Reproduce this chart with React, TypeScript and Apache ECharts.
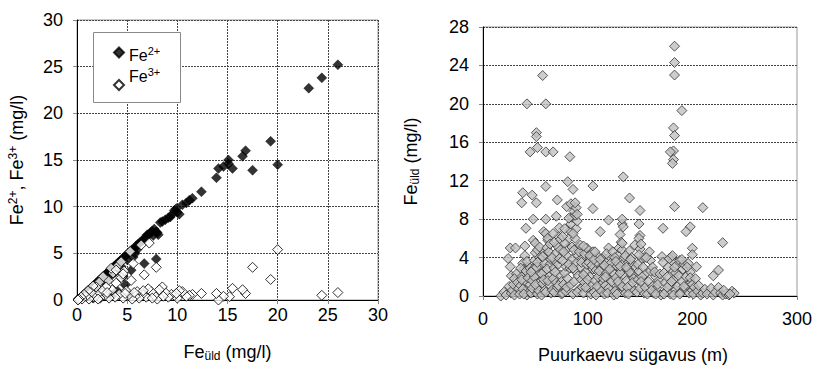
import React, { useEffect, useRef } from "react";
import * as echarts from "echarts";

// Left chart: total Fe (mg/l) vs Fe2+ / Fe3+ (mg/l)
const fe2Points: [number, number][] = [
  [26.0, 25.2], [24.4, 23.8], [23.1, 22.7], [20.0, 14.5], [19.3, 17.0], [17.5, 13.9],
  [16.8, 16.0], [16.5, 15.4], [15.5, 14.1], [15.1, 15.0], [15.1, 14.6], [14.6, 14.3],
  [14.1, 14.1], [13.9, 13.1], [12.4, 11.6], [11.5, 10.9], [11.2, 10.7], [10.9, 10.4],
  [10.5, 10.2], [10.2, 9.2], [10.0, 9.4], [9.9, 9.8], [9.7, 9.6], [9.5, 9.2], [9.3, 8.9],
  [9.1, 8.8], [8.8, 8.6], [8.5, 8.4], [8.3, 8.3], [8.1, 7.0], [7.9, 7.3], [7.7, 7.6],
  [7.5, 7.4], [7.3, 7.2], [7.1, 6.9], [6.9, 6.8], [6.7, 6.6], [6.5, 6.3], [6.3, 6.2],
  [6.1, 6.0], [5.9, 5.8], [5.7, 5.5], [5.5, 5.4], [5.3, 5.2], [5.1, 5.0], [4.9, 4.8],
  [4.7, 4.6], [4.5, 4.4], [4.3, 4.2], [4.1, 4.0], [3.9, 3.8], [3.7, 3.6], [3.5, 3.4],
  [3.3, 3.2], [3.1, 3.0], [2.9, 2.8], [2.7, 2.6], [2.5, 2.4], [2.3, 2.2], [2.1, 2.0],
  [1.9, 1.8], [1.7, 1.6], [1.5, 1.4], [1.3, 1.2], [1.1, 1.0], [0.9, 0.8], [0.7, 0.6],
  [0.5, 0.4], [0.3, 0.2], [0.1, 0.1], [7.9, 4.4], [6.7, 3.9], [5.4, 3.2], [4.8, 1.6],
  [5.8, 5.0], [6.0, 5.4], [5.0, 4.3], [4.4, 3.6], [3.8, 3.0], [3.2, 2.5], [2.6, 2.0],
  [4.0, 1.0], [3.5, 0.5], [2.4, 0.3], [5.2, 0.6], [1.6, 0.2], [7.0, 7.0], [8.0, 7.2],
  [7.6, 6.9], [4.2, 3.9], [3.6, 2.8], [3.0, 2.2], [5.6, 4.6], [4.6, 2.5], [2.0, 1.2],
];

const fe3Points: [number, number][] = [
  [26.0, 0.8], [24.4, 0.5], [20.0, 5.4], [19.3, 2.2], [17.5, 3.5], [16.8, 0.7], [16.5, 1.1],
  [15.5, 1.25], [15.2, 0.35], [14.6, 0.4], [14.1, 0.0], [13.9, 0.7], [12.4, 0.7], [11.5, 0.6],
  [11.2, 0.5], [10.9, 0.4], [10.5, 0.9], [10.2, 1.0], [10.0, 0.2], [9.7, 0.5], [9.4, 0.6],
  [9.1, 0.3], [8.8, 0.8], [8.5, 1.4], [8.2, 1.1], [8.0, 0.1], [7.9, 3.5], [7.7, 0.5],
  [7.4, 0.9], [7.2, 6.1], [7.1, 1.2], [6.9, 0.3], [6.7, 2.7], [6.5, 0.6], [6.4, 5.9],
  [6.2, 0.2], [6.0, 0.9], [5.8, 0.4], [5.6, 3.9], [5.5, 0.1], [5.4, 2.1], [5.3, 5.2],
  [5.1, 0.5], [4.9, 1.0], [4.7, 3.1], [4.6, 0.2], [4.4, 2.4], [4.2, 0.6], [4.0, 3.6],
  [3.9, 1.8], [3.8, 0.3], [3.6, 2.9], [3.5, 1.1], [3.4, 3.4], [3.2, 0.2], [3.1, 2.1],
  [2.9, 1.4], [2.8, 0.5], [2.6, 2.5], [2.5, 1.0], [2.3, 0.2], [2.2, 1.9], [2.0, 0.6],
  [1.9, 1.4], [1.7, 0.3], [1.6, 1.5], [1.4, 0.8], [1.2, 0.1], [1.1, 1.0], [0.9, 0.4],
  [0.7, 0.6], [0.5, 0.1], [0.4, 0.3], [0.2, 0.1], [0.1, 0.0], [6.6, 1.0], [7.5, 0.2],
  [8.6, 0.4], [9.9, 0.7], [5.7, 0.8], [4.8, 0.7], [3.0, 0.8], [2.1, 0.1], [4.4, 4.1],
  [3.9, 3.2], [4.6, 2.8],
];

// Right chart: well depth (m) vs total Fe (mg/l)
const depthFe: [number, number][] = [
  // outliers
  [183, 26.0], [183, 24.3], [183, 23.0], [190, 19.3], [182, 17.5], [183, 16.7], [182, 15.1],
  [179, 15.0], [182, 14.2], [181, 13.8], [183, 9.3], [210, 9.2], [198, 7.2], [194, 6.7],
  [229, 5.55], [172, 7.05], [200, 4.97], [200, 4.3], [204, 3.05], [225, 2.7], [220, 2.1],
  [57, 22.95], [42, 20.0], [60, 20.0], [51, 17.0], [51, 16.6], [52, 15.45], [45, 15.0],
  [60, 15.0], [67, 15.0], [83, 14.5], [134, 12.4], [81, 11.9], [86, 11.1], [60, 11.4],
  [105, 11.45], [140, 10.2], [38, 10.75], [37, 9.7], [47, 10.5], [51, 9.7], [71, 10.0],
  [105, 9.1], [150, 8.9], [41, 7.05], [48, 8.0], [60, 8.0], [70, 8.3], [120, 7.9],
  [112, 6.7], [133, 7.5], [134, 7.2], [133, 8.0], [149, 7.5], [150, 6.3], [149, 6.0],
  [40, 5.2], [26, 5.0], [31, 5.0], [24, 3.9], [26, 3.05], [27, 2.1],
  // x 17-35
  [17, 0.0], [20, 0.4], [22, 0.1], [25, 1.0], [27, 0.3], [28, 0.6], [29, 1.2], [30, 0.1],
  [32, 2.3], [30, 1.8], [33, 1.4], [34, 0.8],
  // x 35-45
  [35, 0.2], [36, 1.1], [37, 2.0], [38, 3.4], [39, 2.8], [40, 1.6], [41, 0.5], [42, 0.1],
  [43, 3.0], [44, 2.4], [45, 1.2], [38, 0.7], [36, 2.9], [40, 4.2], [42, 3.6], [44, 0.4],
  [37, 1.7], [39, 0.2], [41, 2.6], [43, 1.9], [45, 2.9],
  // x 45-55
  [46, 0.3], [47, 1.6], [48, 2.8], [49, 3.7], [50, 4.5], [51, 1.0], [52, 0.2], [53, 2.2],
  [54, 3.2], [55, 1.5], [48, 5.8], [50, 5.5], [52, 4.8], [54, 4.0], [47, 0.8], [49, 2.0],
  [51, 3.0], [53, 0.6], [55, 3.8], [46, 2.5], [50, 1.2], [52, 3.5], [54, 5.1],
  // x 55-65
  [56, 0.1], [57, 1.3], [58, 2.5], [59, 3.4], [60, 4.4], [61, 5.0], [62, 5.8], [63, 2.0],
  [64, 1.1], [65, 0.3], [58, 6.7], [60, 6.5], [62, 6.0], [64, 3.3], [57, 4.1], [59, 0.6],
  [61, 2.8], [63, 4.6], [65, 3.8], [56, 2.3], [58, 1.7], [60, 0.4], [62, 1.6], [64, 5.4],
  // x 65-75
  [66, 0.6], [67, 1.8], [68, 2.9], [69, 3.6], [70, 4.5], [71, 5.2], [72, 6.2], [73, 7.1],
  [74, 2.2], [75, 0.2], [66, 4.0], [68, 0.4], [70, 1.4], [72, 3.3], [74, 4.8], [67, 6.5],
  [69, 2.5], [71, 0.9], [73, 3.9], [75, 1.5], [68, 5.6], [72, 1.1], [74, 5.9],
  // x 75-85
  [76, 0.3], [77, 1.2], [78, 2.4], [79, 3.1], [80, 4.2], [81, 5.0], [82, 6.0], [83, 6.8],
  [84, 7.5], [85, 8.2], [80, 9.3], [82, 8.1], [84, 9.6], [78, 5.5], [76, 3.7], [77, 4.6],
  [79, 0.5], [81, 1.8], [83, 2.9], [85, 3.8], [76, 6.2], [78, 7.0], [80, 0.9], [82, 3.3],
  [84, 1.2], [85, 5.1],
  // x 85-95
  [86, 0.2], [87, 1.5], [88, 2.6], [89, 3.4], [90, 4.3], [91, 5.0], [88, 6.0], [89, 7.0],
  [90, 7.8], [88, 8.4], [87, 8.8], [89, 9.2], [88, 9.7], [90, 8.5], [86, 6.5], [87, 4.8],
  [91, 2.1], [92, 0.7], [93, 3.0], [94, 1.7], [95, 4.0], [92, 4.6], [94, 3.5], [86, 2.9],
  [90, 0.4], [93, 5.3], [95, 0.9],
  // x 95-105
  [96, 0.3], [97, 1.4], [98, 2.5], [99, 3.3], [100, 4.8], [101, 0.8], [102, 2.0], [103, 3.9],
  [104, 1.1], [105, 2.8], [97, 4.4], [99, 5.0], [101, 3.5], [103, 0.2], [105, 4.6], [96, 2.2],
  [98, 0.9], [100, 1.7], [102, 4.2], [104, 3.2], [96, 5.2],
  // x 105-115
  [106, 0.4], [107, 1.6], [108, 2.7], [109, 3.5], [110, 4.1], [111, 0.9], [112, 2.2],
  [113, 3.0], [114, 1.3], [115, 4.0], [106, 3.8], [108, 0.1], [110, 2.0], [112, 3.8],
  [114, 2.9], [107, 4.6], [109, 1.0], [111, 2.6], [113, 0.5], [115, 1.8],
  // x 115-125
  [116, 0.2], [117, 1.1], [118, 2.4], [119, 3.6], [120, 5.0], [121, 4.1], [122, 1.7],
  [123, 0.6], [124, 3.0], [125, 2.3], [118, 4.4], [120, 0.8], [122, 3.4], [124, 4.6],
  [116, 3.2], [117, 2.0], [119, 0.3], [121, 2.8], [123, 1.5], [125, 0.1],
  // x 125-135
  [126, 0.5], [127, 1.9], [128, 3.1], [129, 4.2], [130, 5.0], [131, 6.4], [132, 5.6],
  [133, 4.8], [134, 3.4], [135, 2.1], [126, 4.0], [128, 0.2], [130, 1.2], [132, 2.7],
  [134, 0.8], [127, 3.6], [129, 1.5], [131, 2.4], [133, 1.0], [135, 4.0], [131, 3.1],
  [133, 5.5],
  // x 135-145
  [136, 0.3], [137, 1.6], [138, 2.8], [139, 3.5], [140, 4.7], [141, 1.0], [142, 2.2],
  [143, 3.3], [144, 0.6], [145, 5.3], [136, 4.2], [138, 0.9], [140, 2.5], [142, 4.0],
  [144, 1.8], [146, 3.0], [137, 3.0], [139, 0.2], [141, 3.8], [143, 1.4],
  // x 145-155
  [147, 0.4], [148, 1.7], [149, 2.6], [150, 4.9], [151, 5.4], [152, 3.9], [153, 1.2],
  [154, 0.3], [155, 2.3], [148, 3.3], [150, 0.8], [152, 2.0], [154, 4.0], [149, 4.3],
  [151, 1.5], [153, 3.0], [155, 0.9],
  // x 155-170
  [157, 0.2], [158, 1.5], [159, 4.6], [160, 2.6], [162, 1.0], [163, 0.3], [165, 2.0],
  [166, 0.8], [168, 1.6], [170, 0.1], [160, 3.7], [162, 3.0], [164, 2.5], [167, 1.2],
  [169, 2.3], [156, 4.0], [161, 0.6], [165, 0.2],
  // x 170-185
  [171, 4.1], [172, 3.5], [173, 2.4], [174, 1.4], [175, 0.5], [176, 2.0], [177, 3.0],
  [178, 1.1], [179, 0.2], [180, 4.0], [181, 3.6], [182, 2.6], [183, 1.8], [184, 0.6],
  [185, 3.2], [178, 3.9], [180, 1.5], [182, 0.1], [184, 2.4], [173, 0.2], [176, 0.9],
  [181, 4.2], [183, 3.0],
  // x 185-200
  [186, 1.0], [187, 2.1], [188, 3.7], [189, 0.4], [190, 1.5], [191, 2.8], [192, 3.3],
  [193, 0.8], [194, 2.0], [195, 1.1], [196, 3.4], [197, 0.3], [198, 2.5], [199, 1.4],
  [200, 0.6], [188, 0.2], [190, 3.8], [192, 1.0], [195, 3.0], [198, 1.9], [200, 1.2],
  // x 200-240
  [201, 0.2], [202, 0.9], [203, 1.8], [205, 0.5], [206, 1.1], [208, 0.1], [210, 0.3],
  [212, 0.7], [214, 0.2], [218, 0.8], [220, 0.1], [222, 0.4], [225, 0.9], [227, 0.3],
  [229, 0.1], [232, 0.2], [235, 0.1], [238, 0.5], [240, 0.3], [236, 0.2], [230, 0.6],
];

const FONT = "'Liberation Sans', Arial, sans-serif";
const FS = 18;

const rich = {
  n: { fontSize: FS, fontFamily: FONT, color: "#000", lineHeight: 20 },
  sup: { fontSize: 12, fontFamily: FONT, color: "#000", lineHeight: 12, verticalAlign: "top" },
  sub: { fontSize: 12, fontFamily: FONT, color: "#000", lineHeight: 12, verticalAlign: "bottom" },
};

const legendRich = {
  n: { fontSize: 16, fontFamily: FONT, color: "#000", lineHeight: 20 },
  sup: { fontSize: 11, fontFamily: FONT, color: "#000", lineHeight: 11, verticalAlign: "top" },
};

export default function App() {
  const ref = useRef<HTMLDivElement>(null);
  useEffect(() => {
    if (!ref.current) return;
    const chart = echarts.init(ref.current, null, { renderer: "svg" });
    const axisLabel = { fontSize: FS, fontFamily: FONT, color: "#000" };
    const dotted = { show: true, lineStyle: { color: "#444", type: [2, 1] as any, width: 1 } };
    const tick = { show: true, length: 4, lineStyle: { color: "#888" } };
    const axisLine = { show: true, onZero: false, lineStyle: { color: "#000", width: 1 } };
    const option: any = {
      animation: false,
      backgroundColor: "#fff",
      textStyle: { fontFamily: FONT },
      grid: [
        {
          left: 77, top: 20, width: 301, height: 280, show: true, borderColor: "#999", borderWidth: 1,
          containLabel: false, outerBoundsMode: "none",
        },
        {
          left: 483, top: 27, width: 314, height: 269, show: true, borderColor: "#999", borderWidth: 1,
          containLabel: false, outerBoundsMode: "none",
        },
      ],
      xAxis: [
        {
          gridIndex: 0, type: "value", min: 0, max: 30, interval: 5,
          axisLine, axisTick: tick, splitLine: dotted,
          axisLabel: { ...axisLabel, margin: 6 },
          name: "{n|Fe}{sub|üld}{n| (mg/l)}",
          nameLocation: "middle", nameGap: 42,
          nameTextStyle: { rich },
        },
        {
          gridIndex: 1, type: "value", min: 0, max: 300, interval: 100,
          axisLine, axisTick: tick, splitLine: { show: false },
          axisLabel: { ...axisLabel, margin: 14 },
          name: "Puurkaevu sügavus (m)",
          nameLocation: "middle", nameGap: 50,
          nameTextStyle: { fontSize: FS, fontFamily: FONT, color: "#000", padding: [0, 14, 0, 0] },
        },
      ],
      yAxis: [
        {
          gridIndex: 0, type: "value", min: 0, max: 30, interval: 5,
          axisLine, axisTick: tick, splitLine: dotted,
          axisLabel: { ...axisLabel, margin: 14 },
          name: "{n|Fe}{sup|2+}{n|, Fe}{sup|3+}{n| (mg/l)}",
          nameLocation: "middle", nameGap: 50,
          nameTextStyle: { rich },
        },
        {
          gridIndex: 1, type: "value", min: 0, max: 28, interval: 4,
          axisLine, axisTick: tick, splitLine: dotted,
          axisLabel: { ...axisLabel, margin: 14 },
          name: "{n|Fe}{sub|üld}{n| (mg/l)}",
          nameLocation: "middle", nameGap: 62,
          nameTextStyle: { rich },
        },
      ],
      graphic: {
        elements: [
          {
            type: "rect", left: 93, top: 32, z: 3,
            shape: { width: 87, height: 70 },
            style: { fill: "#fff", stroke: "#888", lineWidth: 1 },
          },
        ],
      },
      legend: [
        {
          data: ["Fe2+"], left: 113, top: 45, itemWidth: 10, itemHeight: 10, padding: 0,
          selectedMode: false, z: 5,
          formatter: () => "{n|Fe}{sup|2+}",
          textStyle: { rich: legendRich, padding: [5, 0, 0, 0] },
        },
        {
          data: ["Fe3+"], left: 113, top: 66, itemWidth: 10, itemHeight: 10, padding: 0,
          selectedMode: false, z: 5,
          formatter: () => "{n|Fe}{sup|3+}",
          textStyle: { rich: legendRich, padding: [0, 0, 18, 0] },
        },
      ],
      series: [
        {
          name: "Fe2+", type: "scatter", xAxisIndex: 0, yAxisIndex: 0,
          symbol: "diamond", symbolSize: 10, data: fe2Points,
          itemStyle: { color: "#000", borderColor: "#000", borderWidth: 0.5 },
        },
        {
          name: "Fe3+", type: "scatter", xAxisIndex: 0, yAxisIndex: 0,
          symbol: "diamond", symbolSize: 10, data: fe3Points,
          itemStyle: { color: "#fff", borderColor: "#000", borderWidth: 1 },
        },
        {
          name: "Feyld", type: "scatter", xAxisIndex: 1, yAxisIndex: 1,
          symbol: "diamond", symbolSize: 10, data: depthFe,
          itemStyle: { color: "#c0c0c0", borderColor: "#333", borderWidth: 1 },
        },
      ],
    };
    chart.setOption(option);
    return () => chart.dispose();
  }, []);
  return (
    <div
      ref={ref}
      style={{ position: "absolute", left: 0, top: 0, width: 813, height: 366, background: "#fff" }}
    />
  );
}
